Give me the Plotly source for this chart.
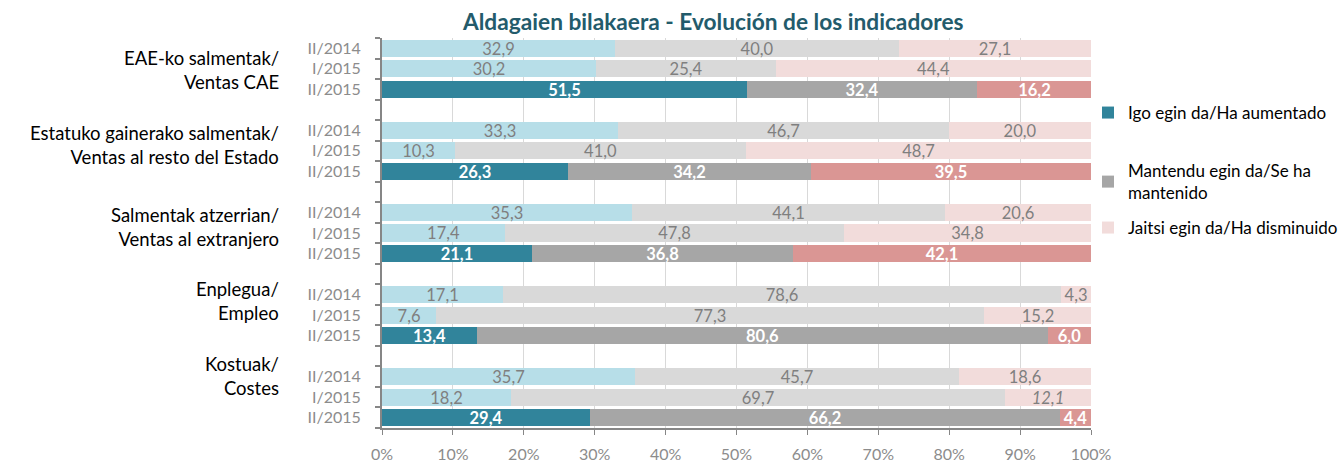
import plotly.graph_objects as go

# ---------------- data ----------------
groups = ["EAE-ko salmentak/<br>Ventas CAE",
          "Estatuko gainerako salmentak/<br>Ventas al resto del Estado",
          "Salmentak atzerrian/<br>Ventas al extranjero",
          "Enplegua/<br>Empleo",
          "Kostuak/<br>Costes"]
periods = ["II/2014", "I/2015", "II/2015"]
up = [[32.9, 30.2, 51.5], [33.3, 10.3, 26.3], [35.3, 17.4, 21.1], [17.1, 7.6, 13.4], [35.7, 18.2, 29.4]]
same = [[40.0, 25.4, 32.4], [46.7, 41.0, 34.2], [44.1, 47.8, 36.8], [78.6, 77.3, 80.6], [45.7, 69.7, 66.2]]
down = [[27.1, 44.4, 16.2], [20.0, 48.7, 39.5], [20.6, 34.8, 42.1], [4.3, 15.2, 6.0], [18.6, 12.1, 4.4]]
series_names = ["Igo egin da/Ha aumentado",
                "Mantendu egin da/Se ha<br>mantenido",
                "Jaitsi egin da/Ha disminuido"]
italic_labels = {("down", 4, 1)}
x_ticks = [0, 10, 20, 30, 40, 50, 60, 70, 80, 90, 100]
title = "Aldagaien bilakaera - Evolución de los indicadores"

# ---------------- style ----------------
FONT = "Lato"
light = {"up": "#B7DEE8", "same": "#D9D9D9", "down": "#F2DCDB"}
dark = {"up": "#31849B", "same": "#A6A6A6", "down": "#DA9694"}
ROWS_PER_GROUP = 4  # 3 periods + 1 blank


def ypos(g, p):
    return g * ROWS_PER_GROUP + p


def fmt(v):
    return f"{v:.1f}".replace(".", ",")


data = {"up": up, "same": same, "down": down}
fig = go.Figure()


def add(key, is_dark, legend_name=None, legend_id=None):
    ys, xs, texts = [], [], []
    for g in range(len(groups)):
        for p in range(len(periods)):
            if (p == 2) != is_dark:
                continue
            v = data[key][g][p]
            ys.append(ypos(g, p))
            xs.append(v)
            t = fmt(v)
            if (key, g, p) in italic_labels:
                t = f"<i>{t}</i>"
            texts.append(t)
    fig.add_trace(go.Bar(
        x=xs, y=ys, orientation="h", text=texts,
        textposition="inside", insidetextanchor="middle", constraintext="none",
        textangle=0,
        textfont=dict(family=FONT, size=16.5,
                      color="white" if is_dark else "#7F7F7F",
                      weight="bold" if is_dark else "normal"),
        marker=dict(color=dark[key] if is_dark else light[key], line=dict(width=0)),
        width=0.83,
        name=legend_name if legend_name else key,
        showlegend=legend_name is not None,
        legend=legend_id if legend_id else "legend",
        hoverinfo="skip",
    ))


add("up", True, series_names[0], "legend")
add("up", False)
add("same", True, series_names[1], "legend2")
add("same", False)
add("down", False, series_names[2], "legend3")
add("down", True)

# ---------------- layout ----------------
L, R, T, B = 382, 247, 38, 43
W, H = 1338, 471
plot_h = H - T - B
plot_w = W - L - R


def py(px):  # pixel y -> paper y
    return (H - B - px) / plot_h


def px_(x):  # pixel x -> paper x
    return (x - L) / plot_w


tickvals = [ypos(g, p) for g in range(len(groups)) for p in range(len(periods))]
ticktext = [periods[p] for g in range(len(groups)) for p in range(len(periods))]
last_row = ypos(len(groups) - 1, len(periods) - 1)

legend_common = dict(font=dict(family=FONT, size=17, color="#000000"),
                     bgcolor="rgba(0,0,0,0)", xanchor="left", yanchor="middle",
                     x=px_(1088), itemwidth=30)

fig.update_layout(
    width=W, height=H,
    margin=dict(l=L, r=R, t=T, b=B, autoexpand=False),
    barmode="stack", bargap=0,
    plot_bgcolor="white", paper_bgcolor="white",
    font=dict(family=FONT),
    legend=dict(**legend_common, y=py(113)),
    legend2=dict(**legend_common, y=py(182)),
    legend3=dict(**legend_common, y=py(228)),
    xaxis=dict(range=[0, 100], tickvals=x_ticks, ticktext=[f"{v}%" for v in x_ticks],
               showgrid=True, gridcolor="#D9D9D9", gridwidth=1,
               showline=True, linecolor="#868686", linewidth=2,
               ticks="outside", ticklen=5, tickcolor="#868686",
               tickfont=dict(family=FONT, size=16, color="#8C8C8C"),
               ticklabelstandoff=6, zeroline=False, fixedrange=True),
    yaxis=dict(range=[last_row + 0.5, -0.5], tickvals=tickvals, ticktext=ticktext,
               showgrid=False, zeroline=False,
               showline=True, linecolor="#868686", linewidth=2,
               ticks="", tickfont=dict(family=FONT, size=16, color="#8C8C8C"),
               ticklabelstandoff=16,
               minor=dict(tickmode="linear", tick0=-0.5, dtick=1, ticks="outside",
                          ticklen=5, tickcolor="#868686", tickwidth=2, showgrid=False),
               fixedrange=True),
)

# group labels (left)
label_offsets = [1.05, 0.7, 0.7, 0.3, -0.05]
for g, name in enumerate(groups):
    fig.add_annotation(text=name, xref="paper", yref="y", x=px_(281), y=ypos(g, 0) + label_offsets[g],
                       xanchor="right", yanchor="middle", align="right", showarrow=False,
                       font=dict(family=FONT, size=18.5, color="#000000"))

fig.add_annotation(text=f"<b>{title}</b>", xref="paper", yref="paper",
                   x=px_(713), y=py(22), xanchor="center", yanchor="middle", showarrow=False,
                   font=dict(family=FONT, size=22.7, color="#235B6B"))

fig.write_html("out.html", post_script="document.body.style.margin='0px';",
               config={"displayModeBar": False})
